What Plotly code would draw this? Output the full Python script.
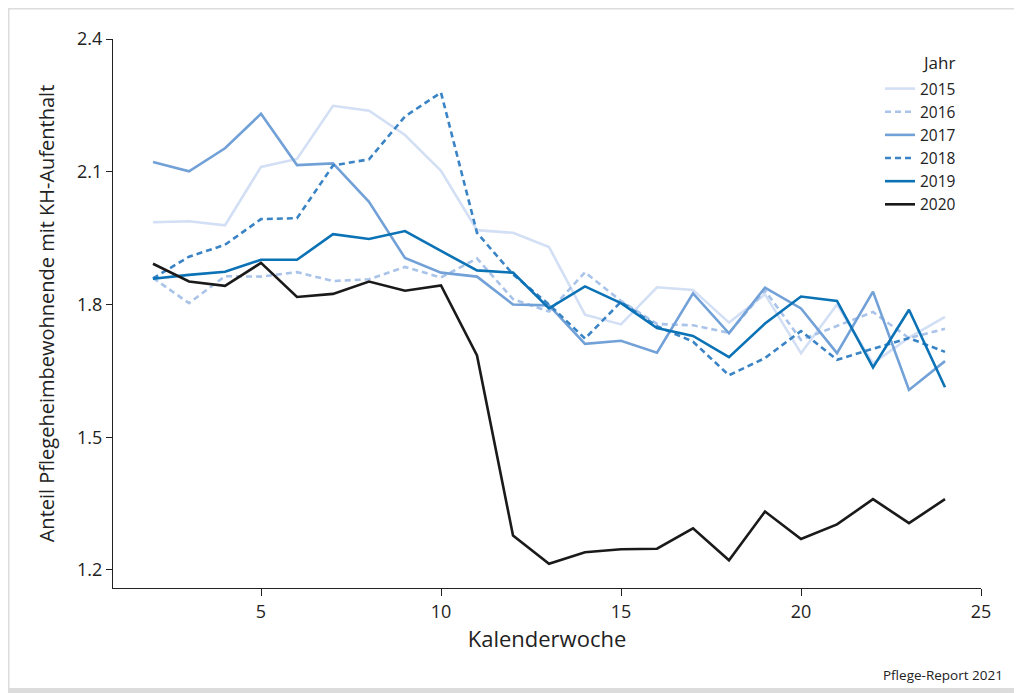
import plotly.graph_objects as go

weeks = list(range(2, 25))

y2015 = [1.986, 1.988, 1.979, 2.111, 2.129, 2.249, 2.238, 2.183, 2.102, 1.968, 1.962, 1.930, 1.777, 1.755, 1.839, 1.833, 1.759, 1.823, 1.690, 1.800, 1.667, 1.725, 1.772]
y2016 = [1.860, 1.803, 1.864, 1.863, 1.873, 1.853, 1.857, 1.885, 1.861, 1.904, 1.812, 1.784, 1.873, 1.808, 1.756, 1.753, 1.736, 1.832, 1.720, 1.752, 1.783, 1.724, 1.745]
y2017 = [2.122, 2.101, 2.153, 2.231, 2.115, 2.119, 2.032, 1.905, 1.872, 1.863, 1.800, 1.798, 1.711, 1.718, 1.691, 1.825, 1.735, 1.838, 1.791, 1.690, 1.829, 1.607, 1.672]
y2018 = [1.859, 1.908, 1.935, 1.993, 1.995, 2.114, 2.128, 2.225, 2.279, 1.962, 1.868, 1.800, 1.723, 1.806, 1.751, 1.716, 1.640, 1.679, 1.740, 1.675, 1.700, 1.724, 1.693]
y2019 = [1.858, 1.867, 1.874, 1.901, 1.901, 1.959, 1.948, 1.966, 1.921, 1.877, 1.872, 1.791, 1.841, 1.803, 1.747, 1.729, 1.681, 1.757, 1.818, 1.808, 1.658, 1.788, 1.613]
y2020 = [1.892, 1.852, 1.842, 1.894, 1.817, 1.824, 1.852, 1.831, 1.843, 1.685, 1.278, 1.214, 1.240, 1.247, 1.248, 1.294, 1.222, 1.332, 1.270, 1.303, 1.360, 1.306, 1.360]

series_names = ["2015", "2016", "2017", "2018", "2019", "2020"]
series_values = [y2015, y2016, y2017, y2018, y2019, y2020]
colors = ["#d2dff4", "#a9c3e9", "#72a1d8", "#3a84c6", "#0b72b5", "#1a1a1a"]
dashes = ["solid", "6px,4px", "solid", "6px,4px", "solid", "solid"]

x_ticks = [5, 10, 15, 20, 25]
y_ticks = [1.2, 1.5, 1.8, 2.1, 2.4]

FONT = "Open Sans"
OFF = 8  # page body margin
W, H = 1022 - OFF, 693 - OFF
L, T = 113 - OFF, 39 - OFF
R, B = 41, 105
pw, ph = W - L - R, H - T - B

def px(xp):
    # page pixel -> paper
    return (xp - OFF - L) / pw

def py(yp):
    return (H - B - (yp - OFF)) / ph

fig = go.Figure()
for name, vals, c, d in zip(series_names, series_values, colors, dashes):
    fig.add_trace(go.Scatter(x=weeks, y=vals, mode="lines", name=name,
                             line=dict(color=c, width=2.6, dash=d)))

fig.update_layout(
    width=W, height=H,
    margin=dict(l=L, r=R, t=T, b=B, autoexpand=False),
    paper_bgcolor="white", plot_bgcolor="white",
    font=dict(family=FONT, size=17, color="#222"),
    showlegend=True,
    legend=dict(x=px(880), y=py(72), xanchor="left", yanchor="top",
                font=dict(family=FONT, size=15.5, color="#222"),
                bgcolor="rgba(0,0,0,0)", itemwidth=30, tracegroupgap=0),
    xaxis=dict(range=[0.889, 25], tickvals=x_ticks, showgrid=False, zeroline=False,
               showline=True, linecolor="#222", linewidth=1.3,
               ticks="outside", ticklen=7, tickcolor="#222", tickwidth=1.3,
               tickfont=dict(family=FONT, size=18, color="#222"),
               title=dict(text="Kalenderwoche", font=dict(family=FONT, size=22, color="#222"), standoff=5)),
    yaxis=dict(range=[1.1593, 2.4], tickvals=y_ticks, tickformat=".1f", showgrid=False, zeroline=False,
               showline=True, linecolor="#222", linewidth=1.3,
               ticks="outside", ticklen=6, tickcolor="#222", tickwidth=1.3,
               tickfont=dict(family=FONT, size=18, color="#222"),
               title=dict(text="Anteil Pflegeheimbewohnende mit KH-Aufenthalt",
                          font=dict(family=FONT, size=20, color="#222"), standoff=16)),
)

fig.add_annotation(x=px(920), y=py(62), xref="paper", yref="paper", text="Jahr",
                   showarrow=False, xanchor="left", yanchor="middle",
                   font=dict(family=FONT, size=17, color="#222"))
fig.add_annotation(x=px(1005), y=py(675), xref="paper", yref="paper", text="Pflege-Report 2021",
                   showarrow=False, xanchor="right", yanchor="middle",
                   font=dict(family=FONT, size=13.5, color="#222"))

border = "#dcdcdc"
for (x0, y0, x1, y1) in [(OFF, OFF, 1022, OFF + 1.5), (OFF, 688, 1022, 693),
                         (OFF, OFF, OFF + 1.5, 693), (1017, OFF, 1022, 693)]:
    fig.add_shape(type="rect", xref="paper", yref="paper",
                  x0=px(x0), x1=px(x1), y0=py(y1), y1=py(y0),
                  fillcolor=border, line=dict(width=0), layer="below")

fig.write_html("out.html")
